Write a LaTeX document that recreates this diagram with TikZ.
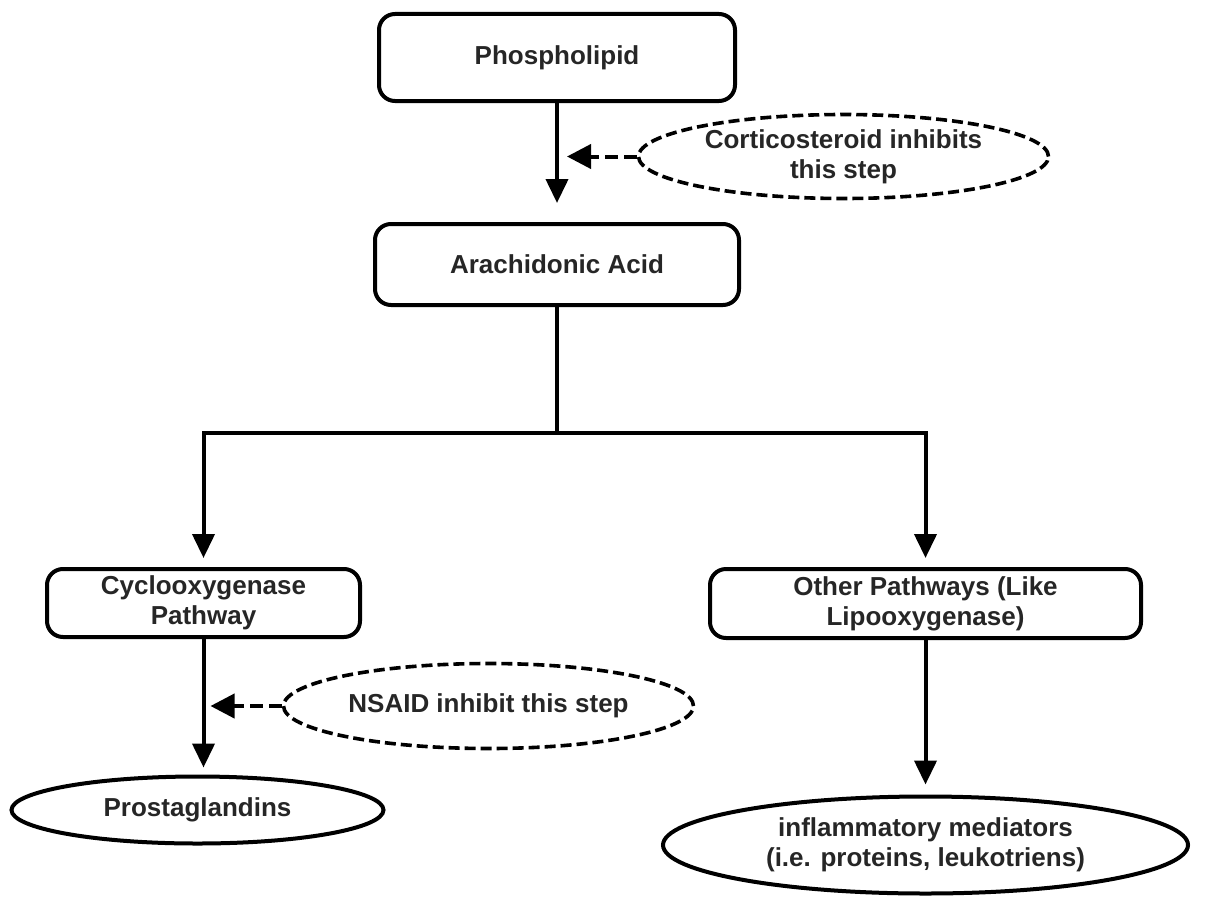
\documentclass[tikz,border=0pt]{standalone}
\usepackage{fontspec}
\setmainfont{Liberation Sans}
\usetikzlibrary{shapes.geometric,arrows.meta}
\begin{document}
\begin{tikzpicture}[x=1pt,y=-1pt,
  every node/.style={font=\fontsize{26}{30}\selectfont\bfseries, align=center, text=black!85},
  rbox/.style={draw, line width=4pt, rounded corners=16pt, inner sep=0pt},
  oval/.style={draw, ellipse, line width=4pt, inner sep=0pt},
  doval/.style={draw, ellipse, line width=3.6pt, dash pattern=on 11pt off 5pt, inner sep=0pt},
  arr/.style={line width=4pt, -{Triangle[length=24pt,width=22pt]}},
  darr/.style={line width=4pt, dash pattern=on 13pt off 6pt, -{Triangle[length=24pt,width=24pt]}},
  line/.style={line width=4pt}]
\useasboundingbox (0,0) rectangle (1209,899);
% boxes
\node[rbox, minimum width=356pt, minimum height=87pt] (phos) at (557,57.5) {Phospholipid};
\node[rbox, minimum width=364pt, minimum height=81pt] (arach) at (557,264.5) {Arachidonic Acid};
\node[rbox, minimum width=313pt, minimum height=68pt] (cox) at (203.5,603) {Cyclooxygenase\\Pathway};
\node[rbox, minimum width=431pt, minimum height=69pt] (other) at (925.5,603.5) {Other Pathways (Like\\Lipooxygenase)};
% ellipses
\node[doval, minimum width=410pt, minimum height=84pt] (cort) at (843.5,156.5) {Corticosteroid inhibits\\this step};
\node[doval, minimum width=410pt, minimum height=85pt] (nsaid) at (488.5,706) {NSAID inhibit this step};
\node[oval, minimum width=372pt, minimum height=67pt] (prost) at (197.5,810) {Prostaglandins};
\node[oval, minimum width=525pt, minimum height=97pt] (infl) at (925.5,845) {inflammatory mediators\\(i.e. proteins, leukotriens)};
% connectors
\coordinate (hbar) at (557,433);
\draw[arr, shorten >=19pt] (phos.south) -- (arach.north);
\draw[line] (arach.south) -- (hbar);
\draw[arr, shorten >=9pt] (other.north |- hbar) -- (cox.north |- hbar) -- (cox.north);
\draw[arr, shorten >=9pt] (cox.north |- hbar) -- (other.north |- hbar) -- (other.north);
\draw[arr, shorten >=7pt] (cox.south) -- (cox.south |- prost.north);
\draw[arr, shorten >=10pt] (other.south) -- (other.south |- infl.north);
\draw[darr, shorten >=10pt] (cort.west) -- (cort.west -| phos.south);
\draw[darr, shorten >=7pt] (nsaid.west) -- (nsaid.west -| cox.south);
\end{tikzpicture}
\end{document}
